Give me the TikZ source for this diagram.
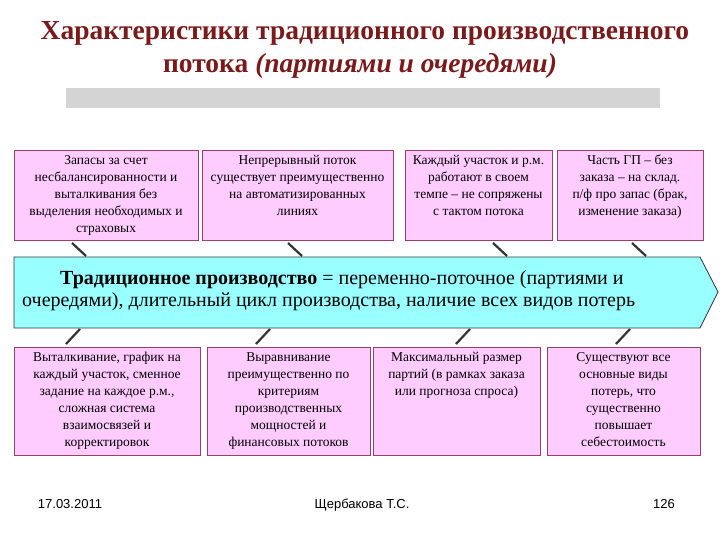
\documentclass[tikz,border=0pt]{standalone}
\usepackage{fontspec}
\setmainfont{Liberation Serif}
\newfontfamily\footfont{Liberation Sans}
\definecolor{ttl}{HTML}{7A1A1A}
\definecolor{pinkbox}{HTML}{FFCCFF}
\definecolor{pinkedge}{HTML}{9A4060}
\definecolor{band}{HTML}{99FFFF}
\begin{document}
\begin{tikzpicture}[x=1pt,y=-1pt,
  rbox/.style={draw=pinkedge,fill=pinkbox,line width=0.8pt},
  btxt/.style={inner sep=0pt,align=center,font=\fontsize{13.5}{17}\selectfont,anchor=north},
  tick/.style={line width=2.2pt,black!80},
  foot/.style={font=\footfont\fontsize{13}{15}\selectfont,anchor=base}]
\useasboundingbox (0,0) rectangle (720,540);
\node[font=\fontsize{27.5}{32}\selectfont\bfseries,text=ttl] (t1) at (365,33) {Характеристики традиционного производственного};
\node[font=\fontsize{27.5}{32}\selectfont\bfseries,text=ttl] (t2) at (360,66) {потока \textit{(партиями и очередями)}};
\node[fill=black!17,minimum width=594,minimum height=20,anchor=north west,inner sep=0] (bar) at (66,88) {};
% top boxes
\draw[rbox] (14,150) rectangle (198,240);
\draw[rbox] (202,150) rectangle (393,240);
\draw[rbox] (405,150) rectangle (552,240);
\draw[rbox] (557,150) rectangle (703,240);
\node[btxt] (a1) at (106,155) {Запасы за счет\\несбалансированности и\\выталкивания без\\выделения необходимых и\\страховых};
\node[btxt] (a2) at (297.5,155) {Непрерывный поток\\существует преимущественно\\на автоматизированных\\линиях};
\node[btxt] (a3) at (478.5,155) {Каждый участок и р.м.\\работают в своем\\темпе – не сопряжены\\с тактом потока};
\node[btxt] (a4) at (630,155) {Часть ГП – без\\заказа – на склад.\\п/ф про запас (брак,\\изменение заказа)};
% band
\draw[fill=band,draw=black!80,line width=0.8pt] (14,257) -- (700,257) -- (718,292) -- (700,328) -- (14,328) -- cycle;
\node[align=left,font=\fontsize{20}{22}\selectfont,anchor=west,inner sep=0] (m) at (22,291) {\hspace*{1.9em}\textbf{Традиционное производство} = переменно-поточное (партиями и\\очередями), длительный цикл производства, наличие всех видов потерь};
% bottom boxes
\draw[rbox] (14,347) rectangle (200,455);
\draw[rbox] (207,347) rectangle (370,455);
\draw[rbox] (373,347) rectangle (540,455);
\draw[rbox] (547,347) rectangle (700,455);
\node[btxt] (b1) at (107,352) {Выталкивание, график на\\каждый участок, сменное\\задание на каждое р.м.,\\сложная система\\взаимосвязей и\\корректировок};
\node[btxt] (b2) at (288.5,352) {Выравнивание\\преимущественно по\\критериям\\производственных\\мощностей и\\финансовых потоков};
\node[btxt] (b3) at (456.5,352) {Максимальный размер\\партий (в рамках заказа\\или прогноза спроса)};
\node[btxt] (b4) at (623.5,352) {Существуют все\\основные виды\\потерь, что\\существенно\\повышает\\себестоимость};
% ticks
\foreach \x in {72,288,493,632}{\coordinate (u\x) at (\x,243); \coordinate (v\x) at (\x+14,256); \draw[tick] (u\x) -- (v\x);}
\foreach \x in {80,270,470,630}{\coordinate (p\x) at (\x,329); \coordinate (q\x) at (\x-14,344); \draw[tick] (p\x) -- (q\x);}
% footer
\node[foot] (f1) at (70,508) {17.03.2011};
\node[foot] (f2) at (362,508) {Щербакова Т.С.};
\node[foot] (f3) at (664,508) {126};
\end{tikzpicture}
\end{document}
